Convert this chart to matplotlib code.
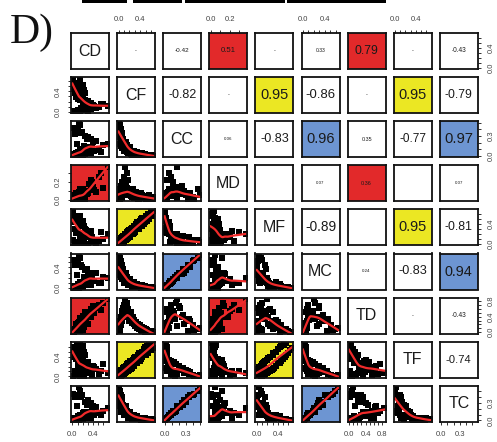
import numpy as np
import matplotlib
matplotlib.use("Agg")
import matplotlib.pyplot as plt
from matplotlib.patches import Rectangle

plt.rcParams['font.family'] = ['Liberation Sans', 'DejaVu Sans']

# variables (one value per sample)
names = ["CD", "CF", "CC", "MD", "MF", "MC", "TD", "TF", "TC"]

CD = [0.12, 0.30, 0.02, 0.08, 0.18, 0.15, 0.22, 0.05, 0.35, 0.10,
      0.38, 0.25, 0.45, 0.16, 0.52, 0.28, 0.68, 0.42, 0.40, 0.33,
      0.55, 0.60, 0.20, 0.36, 0.30, 0.26, 0.24, 0.14, 0.21, 0.11,
      0.17, 0.06, 0.13, 0.09, 0.25, 0.10, 0.18, 0.05, 0.22, 0.06,
      0.15, 0.03, 0.12, 0.04, 0.20, 0.01, 0.08, 0.00, 0.14, 0.02]
CF = [0.00, 0.01, 0.02, 0.00, 0.03, 0.02, 0.04, 0.02, 0.05, 0.04,
      0.07, 0.06, 0.08, 0.07, 0.10, 0.09, 0.12, 0.11, 0.14, 0.13,
      0.16, 0.15, 0.18, 0.17, 0.21, 0.19, 0.23, 0.22, 0.26, 0.25,
      0.29, 0.28, 0.33, 0.30, 0.36, 0.34, 0.39, 0.37, 0.43, 0.41,
      0.47, 0.44, 0.50, 0.49, 0.53, 0.55, 0.57, 0.60, 0.62, 0.65]
CC = [0.50, 0.28, 0.42, 0.18, 0.36, 0.47, 0.15, 0.33, 0.25, 0.40,
      0.12, 0.30, 0.22, 0.34, 0.09, 0.26, 0.18, 0.08, 0.21, 0.12,
      0.06, 0.16, 0.10, 0.04, 0.13, 0.07, 0.03, 0.09, 0.06, 0.02,
      0.08, 0.04, 0.05, 0.01, 0.04, 0.06, 0.02, 0.03, 0.04, 0.01,
      0.03, 0.02, 0.00, 0.03, 0.02, 0.01, 0.02, 0.00, 0.01, 0.00]
MD = [0.05, 0.10, 0.00, 0.02, 0.08, 0.12, 0.04, 0.01, 0.15, 0.03,
      0.20, 0.06, 0.09, 0.02, 0.25, 0.07, 0.37, 0.11, 0.14, 0.18,
      0.30, 0.13, 0.05, 0.22, 0.08, 0.10, 0.04, 0.06, 0.12, 0.03,
      0.07, 0.02, 0.09, 0.05, 0.01, 0.04, 0.06, 0.00, 0.03, 0.08,
      0.02, 0.05, 0.01, 0.04, 0.03, 0.00, 0.06, 0.02, 0.01, 0.03]
MF = [0.04, 0.00, 0.09, 0.03, 0.00, 0.08, 0.10, 0.01, 0.12, 0.02,
      0.14, 0.01, 0.03, 0.15, 0.06, 0.17, 0.20, 0.05, 0.08, 0.21,
      0.24, 0.10, 0.12, 0.26, 0.14, 0.28, 0.30, 0.16, 0.20, 0.33,
      0.36, 0.22, 0.40, 0.25, 0.30, 0.44, 0.47, 0.31, 0.37, 0.50,
      0.41, 0.53, 0.56, 0.44, 0.47, 0.60, 0.51, 0.64, 0.56, 0.67]
MC = [0.64, 0.30, 0.55, 0.26, 0.40, 0.58, 0.22, 0.44, 0.27, 0.52,
      0.18, 0.34, 0.30, 0.45, 0.10, 0.36, 0.20, 0.13, 0.29, 0.14,
      0.10, 0.22, 0.11, 0.07, 0.18, 0.08, 0.06, 0.12, 0.09, 0.03,
      0.11, 0.05, 0.07, 0.02, 0.06, 0.08, 0.04, 0.05, 0.06, 0.01,
      0.04, 0.03, 0.01, 0.05, 0.02, 0.02, 0.03, 0.00, 0.02, 0.01]
TD = [0.10, 0.22, 0.05, 0.15, 0.30, 0.08, 0.35, 0.02, 0.40, 0.18,
      0.55, 0.28, 0.62, 0.33, 0.70, 0.45, 0.85, 0.50, 0.66, 0.38,
      0.58, 0.75, 0.42, 0.60, 0.48, 0.30, 0.52, 0.36, 0.40, 0.24,
      0.32, 0.20, 0.26, 0.15, 0.22, 0.12, 0.18, 0.08, 0.14, 0.05,
      0.10, 0.03, 0.08, 0.00, 0.06, 0.02, 0.04, 0.01, 0.03, 0.00]
TF = [0.02, 0.07, 0.00, 0.05, 0.09, 0.00, 0.01, 0.11, 0.13, 0.02,
      0.03, 0.14, 0.16, 0.04, 0.05, 0.18, 0.07, 0.20, 0.22, 0.08,
      0.10, 0.25, 0.27, 0.11, 0.29, 0.13, 0.16, 0.31, 0.34, 0.18,
      0.21, 0.37, 0.27, 0.40, 0.43, 0.28, 0.32, 0.47, 0.50, 0.35,
      0.55, 0.39, 0.44, 0.59, 0.62, 0.48, 0.64, 0.53, 0.68, 0.58]
TC = [0.57, 0.35, 0.45, 0.24, 0.44, 0.50, 0.15, 0.40, 0.30, 0.43,
      0.16, 0.32, 0.23, 0.40, 0.12, 0.27, 0.22, 0.09, 0.25, 0.13,
      0.09, 0.17, 0.13, 0.05, 0.14, 0.10, 0.05, 0.09, 0.08, 0.03,
      0.10, 0.05, 0.06, 0.02, 0.05, 0.07, 0.03, 0.04, 0.05, 0.01,
      0.04, 0.02, 0.01, 0.04, 0.03, 0.01, 0.02, 0.00, 0.02, 0.01]

# correlations shown above the diagonal, row by row ("-" = not significant)
cor_upper = [
    ["-", -0.42, 0.51, "-", 0.33, 0.79, "-", -0.43],
    [-0.82, "-", 0.95, -0.86, "-", 0.95, -0.79],
    [0.06, -0.83, 0.96, 0.35, -0.77, 0.97],
    ["", 0.07, 0.36, "", 0.07],
    [-0.89, "", 0.95, -0.81],
    [0.24, -0.83, 0.94],
    ["-", -0.43],
    [-0.74],
]

data = dict(zip(names, [CD, CF, CC, MD, MF, MC, TD, TF, TC]))

RED, YELLOW, BLUE = "#e2292a", "#ebe723", "#6d95d2"
highlight = {
    ("CD", "MD"): RED, ("CD", "TD"): RED, ("MD", "TD"): RED,
    ("CF", "MF"): YELLOW, ("CF", "TF"): YELLOW, ("MF", "TF"): YELLOW,
    ("CC", "MC"): BLUE, ("CC", "TC"): BLUE, ("MC", "TC"): BLUE,
}

# axis ticks per variable, and which of them get a label
ticks = {"CD": 0.6, "CF": 0.6, "CC": 0.5, "MD": 0.3, "MF": 0.6,
         "MC": 0.6, "TD": 0.8, "TF": 0.6, "TC": 0.5}
labelled = {"CD": [0.0, 0.4], "CF": [0.0, 0.4], "CC": [0.0, 0.3],
            "MD": [0.0, 0.2], "MF": [0.0, 0.4], "MC": [0.0, 0.4],
            "TD": [0.0, 0.4, 0.8], "TF": [0.0, 0.4], "TC": [0.0, 0.3]}


def lowess(x, y, f=2/3, iters=3):
    x = np.asarray(x, float)
    y = np.asarray(y, float)
    o = np.argsort(x, kind="stable")
    x, y = x[o], y[o]
    n = len(x)
    r = int(np.ceil(f * n))
    delta = np.ones(n)
    fit = np.zeros(n)
    for _ in range(iters + 1):
        for i in range(n):
            d = np.abs(x - x[i])
            h = np.sort(d)[r - 1]
            u = np.clip(d / max(h, 1e-12), 0, 1)
            w = (1 - u ** 3) ** 3 * delta
            sw = w.sum()
            mx = (w * x).sum() / sw
            my = (w * y).sum() / sw
            vx = (w * (x - mx) ** 2).sum()
            b = (w * (x - mx) * (y - my)).sum() / vx if vx > 1e-12 else 0.0
            fit[i] = my + b * (x[i] - mx)
        res = y - fit
        s = np.median(np.abs(res))
        if s < 1e-12:
            break
        u = np.clip(res / (6 * s), -1, 1)
        delta = (1 - u ** 2) ** 2
    return x, fit


W, H = 497, 442
fig = plt.figure(figsize=(W / 100, H / 100), dpi=100)

x0, y0, pw, ph, dx, dy = 71, 33, 38, 36, 46.1, 44.1
n = len(names)

lims = {}
for nm in names:
    v = np.array(data[nm])
    pad = 0.04 * (v.max() - v.min())
    lims[nm] = (v.min() - pad, v.max() + pad)


def tick_setup(nm):
    t = np.round(np.arange(0, ticks[nm] + 1e-9, 0.1), 1)
    lab = [f"{v:.1f}" if v in labelled[nm] else "" for v in t]
    return t, lab


for i in range(n):
    for j in range(n):
        left = x0 + j * dx
        top = y0 + i * dy
        ax = fig.add_axes([left / W, 1 - (top + ph) / H, pw / W, ph / H])
        xn, yn = names[j], names[i]
        ax.set_xlim(lims[xn])
        ax.set_ylim(lims[yn])
        for sp in ax.spines.values():
            sp.set_linewidth(1.3)
            sp.set_color("#111111")
        pair = tuple(sorted((xn, yn), key=names.index))
        if pair in highlight:
            ax.set_facecolor(highlight[pair])

        if i == j:
            ax.text(0.5, 0.5, xn, transform=ax.transAxes, ha="center",
                    va="center", fontsize=11.5, color="#1a1a1a")
        elif i > j:
            ax.plot(data[xn], data[yn], "s", color="black", ms=5, mew=0)
            sx, sy = lowess(data[xn], data[yn])
            ax.plot(sx, sy, color="#f02a2a", lw=1.6)
        else:
            val = cor_upper[i][j - i - 1]
            if isinstance(val, str):
                txt, fs = val, 4
            else:
                txt = f"{val:.2f}"
                fs = max(11 * abs(val), 3.2)
            if txt:
                ax.text(0.5, 0.5, txt, transform=ax.transAxes, ha="center",
                        va="center", fontsize=fs, color="#1a1a1a")

        ax.set_xticks([])
        ax.set_yticks([])
        tp = dict(direction="out", length=2.4, width=0.6, labelsize=5.5,
                  pad=4.5, labelcolor="#444444", color="#111111")
        if i == 0 and j % 2 == 1:
            t, lab = tick_setup(xn)
            ax.set_xticks(t, lab)
            ax.xaxis.tick_top()
            ax.tick_params(axis="x", **tp)
        if i == n - 1 and j % 2 == 0:
            t, lab = tick_setup(xn)
            ax.set_xticks(t, lab)
            ax.tick_params(axis="x", **tp)
        if j == 0 and i % 2 == 1:
            t, lab = tick_setup(yn)
            ax.set_yticks(t, lab)
            ax.tick_params(axis="y", labelrotation=90, **tp)
            for tl in ax.get_yticklabels():
                tl.set_va("center")
        if j == n - 1 and i % 2 == 0:
            t, lab = tick_setup(yn)
            ax.set_yticks(t, lab)
            ax.yaxis.tick_right()
            ax.tick_params(axis="y", labelrotation=90, **tp)
            for tl in ax.get_yticklabels():
                tl.set_va("center")

# strip left over from the panel above
for bx, bw in [(82, 45), (133, 49), (185, 100), (287, 99)]:
    fig.add_artist(Rectangle((bx / W, 1 - 2.5 / H), bw / W, 2.5 / H,
                             transform=fig.transFigure, color="black", lw=0))

fig.text(10 / W, 1 - 14 / H, "D)", family="Liberation Serif", fontsize=30,
         ha="left", va="top", color="#111111")

fig.savefig("out.png", dpi=100)
